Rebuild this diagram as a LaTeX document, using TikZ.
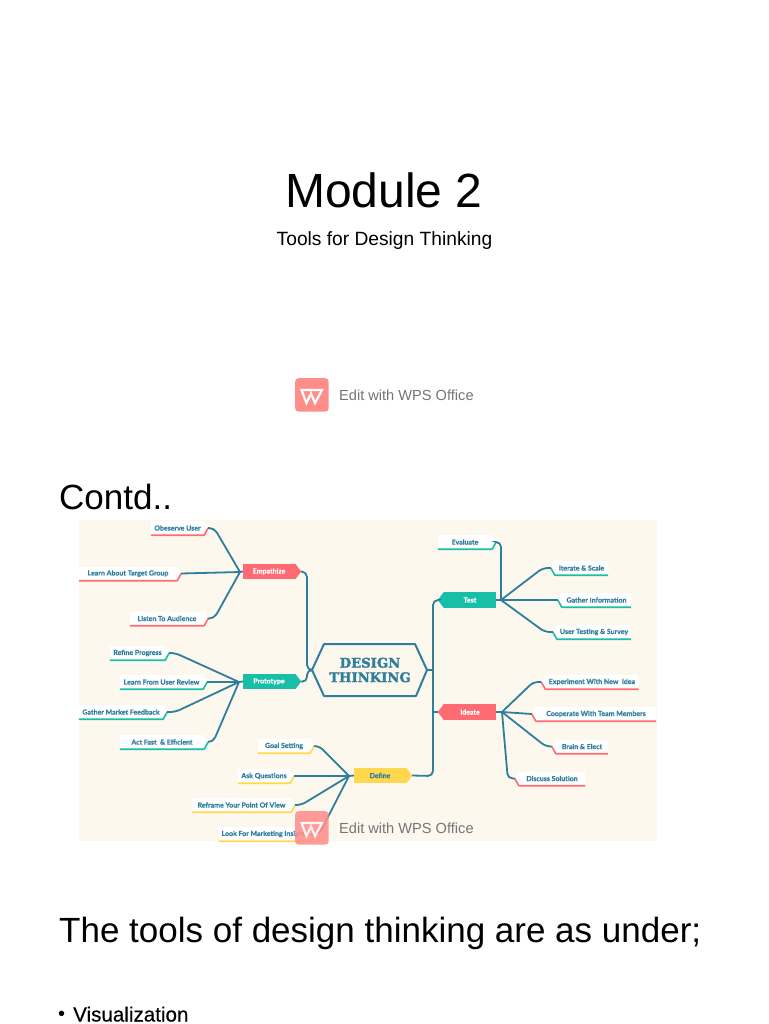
\documentclass[tikz,border=0pt]{standalone}
\usepackage{fontspec}
\setmainfont{Liberation Sans}
\newfontfamily\mapfont[BoldFeatures={FakeBold=0.5}]{Lato}
\newfontfamily\slabfont[BoldFeatures={FakeBold=2}]{DejaVu Serif}
\newfontfamily\visfont[FakeBold=0.4]{Liberation Sans}
\usetikzlibrary{calc}
\definecolor{bgcream}{HTML}{FDF8EE}
\definecolor{conn}{HTML}{2F7E9E}
\definecolor{mapred}{HTML}{FF6B72}
\definecolor{mapteal}{HTML}{17BFA8}
\definecolor{mapyellow}{HTML}{FFD84D}
\definecolor{wps}{HTML}{FF8E8B}
\definecolor{wpstext}{HTML}{757575}
\tikzset{
  x=1pt,y=-1pt,
  link/.style={draw=conn,line width=1.8pt,rounded corners=5pt},
  leaf/.style={fill=white,inner sep=0pt,text=conn,font=\mapfont\bfseries\fontsize{7}{8}\selectfont,minimum height=14pt},
  branch/.style={inner sep=0pt,minimum width=52pt,minimum height=15.5pt,font=\mapfont\bfseries\fontsize{7}{8}\selectfont},
  under/.style={line width=1.6pt,line join=round},
  slide/.style={inner sep=0pt,anchor=base west,text=black},
  wpslabel/.style={inner sep=0pt,anchor=west,text=wpstext,font=\fontsize{14.6}{16}\selectfont},
}
% leaf on the left of the map: tip on the east side
\newcommand{\leafL}[6]{%
  \node[leaf,minimum width=#4pt] (#1) at (#2,#3) {#6};
  \coordinate (#1-t) at ($(#1.east)+(4,0)$);
  \fill[white] (#1.north east) -- (#1-t) -- (#1.south east) -- cycle;
  \draw[under,#5] (#1.south west) -- (#1.south east) -- (#1-t);
}
% leaf on the right of the map: tip on the west side
\newcommand{\leafR}[6]{%
  \node[leaf,minimum width=#4pt] (#1) at (#2,#3) {#6};
  \coordinate (#1-t) at ($(#1.west)+(-4,0)$);
  \fill[white] (#1.north west) -- (#1-t) -- (#1.south west) -- cycle;
  \draw[under,#5] (#1.south east) -- (#1.south west) -- (#1-t);
}
% branch box, pointing right or left
\newcommand{\branchR}[6]{%
  \node[branch,fill=#4,text=#5] (#1) at (#2,#3) {#6};
  \coordinate (#1-t) at ($(#1.east)+(6,0)$);
  \fill[#4] (#1.north east) -- (#1-t) -- (#1.south east) -- cycle;
}
\newcommand{\branchL}[6]{%
  \node[branch,fill=#4,text=#5] (#1) at (#2,#3) {#6};
  \coordinate (#1-t) at ($(#1.west)+(-6,0)$);
  \fill[#4] (#1.north west) -- (#1-t) -- (#1.south west) -- cycle;
}
\newcommand{\wpslogo}[4]{%
  \begin{scope}[shift={(#2,#3)},opacity=#4]
    \node[fill=wps,rounded corners=3.5pt,minimum size=33.5pt,inner sep=0pt,anchor=north west] (#1) at (0,0) {};
    \draw[white,line width=2.2pt,line join=miter] (6.5,12) -- (11.5,25) -- (16,15.5) -- (20,25) -- (27,12) -- (16,12) -- cycle;
  \end{scope}
}
\begin{document}
\begin{tikzpicture}
\useasboundingbox (0,0) rectangle (768,1024);
\fill[white] (0,0) rectangle (768,1024);

% slide text
\node[inner sep=0pt,font=\fontsize{48}{50}\selectfont] (title) at (384,190) {Module 2};
\node[inner sep=0pt,font=\fontsize{19.2}{21}\selectfont] (subtitle) at (384.5,241) {Tools for Design Thinking};
\node[slide,font=\fontsize{35}{38}\selectfont] (contd) at (59,509) {Contd..};
\node[slide,font=\fontsize{35}{38}\selectfont] (tools) at (59,942) {The tools of design thinking are as under;};
\node[slide,font=\fontsize{20}{22}\selectfont] (bullet) at (58,1020) {•};
\node[slide,font=\visfont\fontsize{20.6}{22}\selectfont] (vis) at (73,1021.5) {Visualization};

% upper watermark
\wpslogo{logoA}{295}{378}{1}
\node[wpslabel] (wpsA) at (339,395) {Edit with WPS Office};

% map background
\fill[bgcream] (79,520) rectangle (657,841);

% central hexagon
\node[inner sep=0pt,minimum width=100pt,minimum height=50pt,text=conn,align=center,
  font=\slabfont\bfseries\fontsize{13.2}{14.5}\selectfont] (center) at (370,670) {DESIGN\\THINKING};
\draw[conn,line width=2pt,line join=round] (312,670) -- (324,644) -- (415,644) -- (427,670) -- (416,696) -- (324,696) -- cycle;
\coordinate (hexW) at (312,670);
\coordinate (hexE) at (427,670);

% branches
\branchR{emp}{269}{571.5}{mapred}{white}{Empathize}
\branchR{pro}{269}{681.5}{mapteal}{white}{Prototype}
\branchR{def}{380}{775.5}{mapyellow}{conn}{Define}
\branchL{tst}{470}{600}{mapteal}{white}{Test}
\branchL{ide}{470}{712}{mapred}{white}{Ideate}

% hubs
\coordinate (hubE) at (240,572);
\coordinate (hubP) at (239,682);
\coordinate (hubF) at (349,776);
\coordinate (hubT) at (501,600);
\coordinate (hubI) at (502,712);

% leaves
\leafL{obs}{177.5}{528}{53}{mapred}{Obeserve User}
\leafL{tgt}{128}{573.5}{98}{mapred}{Learn About Target Group}
\leafL{aud}{167}{618.5}{74}{mapred}{Listen To Audience}
\leafL{ref}{137.5}{653}{55}{mapteal}{Refine Progress}
\leafL{rev}{161.5}{682}{83}{mapteal}{Learn From User Review}
\leafL{mkt}{121}{712}{84}{mapteal}{Gather Market Feedback}
\leafL{act}{162}{742}{84}{mapteal}{Act Fast \ \& Efficient}
\leafL{gol}{284}{746}{52}{mapyellow}{Goal Setting}
\leafL{ask}{264}{776}{52}{mapyellow}{Ask Questions}
\leafL{rfm}{241.5}{805}{99}{mapyellow}{Reframe Your Point Of View}
\leafL{ins}{265}{834}{92}{mapyellow}{Look For Marketing Insights}
\leafL{evl}{465}{542}{54}{mapteal}{Evaluate}
\leafR{itr}{581.5}{568}{53}{mapteal}{Iterate \& Scale}
\leafR{inf}{596.5}{600}{69}{mapteal}{Gather Information}
\leafR{usr}{594}{632}{74}{mapteal}{User Testing \& Survey}
\leafR{exp}{592}{682}{93}{mapred}{Experiment With New \ Idea}
\leafR{coo}{596}{714}{120}{mapred}{Cooperate With Team Members}
\leafR{brn}{582}{746.5}{52}{mapred}{Brain \& Elect}
\leafR{dis}{552}{778.5}{66}{mapred}{Discuss Solution}

% connectors to the centre
\draw[link] (emp-t) -- (307,572) -- (307,670) -- (hexW);
\draw[link] (pro-t) -- (307,682) -- (307,670) -- (hexW);
\draw[link] (def-t) -- (433,776) -- (433,600) -- (tst-t);
\draw[link] (ide-t) -- (433,712);
\draw[link] (hexE) -- (433,670);

% connectors from branches to hubs
\foreach \b/\h in {emp/hubE,pro/hubP,def/hubF}{\draw[conn,line width=1.8pt] (\b.west) -- (\h);}
\foreach \b/\h in {tst/hubT,ide/hubI}{\draw[conn,line width=1.8pt] (\b.east) -- (\h);}

% leaves to hubs
\draw[link] (obs-t) -- ++(6,0) -- (hubE);
\draw[link] (tgt-t) -- (hubE);
\draw[link] (aud-t) -- ++(6,0) -- (hubE);
\draw[link] (ref-t) -- ++(6,0) -- (hubP);
\draw[link] (rev-t) -- (hubP);
\draw[link] (mkt-t) -- ++(8,0) -- (hubP);
\draw[link] (act-t) -- ++(5,0) -- (hubP);
\draw[link] (gol-t) -- ++(5,0) -- (hubF);
\draw[link] (ask-t) -- (hubF);
\draw[link] (rfm-t) -- ++(6,0) -- (hubF);
\draw[link] (ins-t) -- ++(4,0) -- (hubF);
\draw[link] (evl-t) -- (501,542) -- (hubT);
\draw[link] (itr-t) -- ++(-8,0) -- (hubT);
\draw[link] (inf-t) -- (hubT);
\draw[link] (usr-t) -- ++(-8,0) -- (hubT);
\draw[link] (exp-t) -- ++(-8,0) -- (hubI);
\draw[link] (coo-t) -- (hubI);
\draw[link] (brn-t) -- ++(-6,0) -- (hubI);
\draw[link] (dis-t) -- ++(-7,0) -- (hubI);

% lower watermark
\wpslogo{logoB}{295}{811}{.88}
\node[wpslabel] (wpsB) at (339,828) {Edit with WPS Office};
\end{tikzpicture}
\end{document}
